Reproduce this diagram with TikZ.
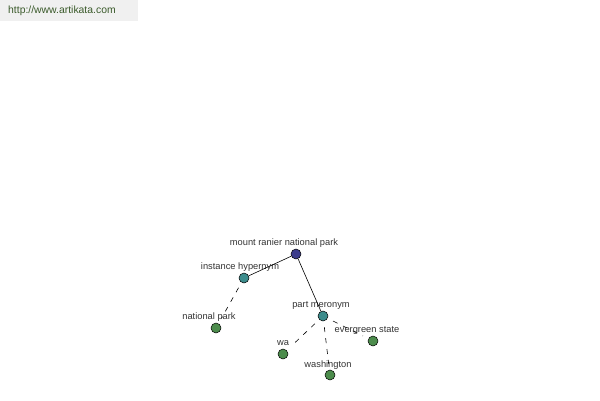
\documentclass[tikz,border=0pt]{standalone}
\usepackage{fontspec}
\setmainfont{Liberation Sans}
\definecolor{rootc}{HTML}{3C3C8C}
\definecolor{relc}{HTML}{3C8C8C}
\definecolor{leafc}{HTML}{4C8C4C}
\definecolor{urlc}{HTML}{3A5A2A}
\begin{document}
\begin{tikzpicture}[x=1pt,y=-1pt,
  dot/.style={circle,draw=black,line width=0.5pt,inner sep=0pt,minimum size=10pt},
  lbl/.style={font=\fontsize{9.3}{10}\selectfont,text=black!80,inner sep=0pt},
  rel/.style={line width=0.6pt},
  sub/.style={line width=0.6pt,dash pattern=on 5pt off 6pt,shorten <=6pt,shorten >=6pt}]
\useasboundingbox (0,0) rectangle (600,400);
\fill[black!6] (0,0) rectangle (138,21);
\node[anchor=west,font=\fontsize{10.4}{12}\selectfont,text=urlc,inner sep=0pt] (url) at (8,11) {http://www.artikata.com};
\node[dot,fill=rootc] (root) at (296,254) {};
\node[dot,fill=relc] (inst) at (244,278) {};
\node[dot,fill=relc] (part) at (323,316) {};
\node[dot,fill=leafc] (np) at (216,328) {};
\node[dot,fill=leafc] (wa) at (283,354) {};
\node[dot,fill=leafc] (wash) at (330,375) {};
\node[dot,fill=leafc] (ever) at (373,341) {};
\node[lbl] (rootl) at (284,243.5) {mount ranier national park};
\node[lbl] (instl) at (240,267.5) {instance hypernym};
\node[lbl] (partl) at (321,305.5) {part meronym};
\node[lbl] (npl) at (209,317.5) {national park};
\node[lbl] (wal) at (283,343.5) {wa};
\node[lbl] (washl) at (328,365.5) {washington};
\node[lbl] (everl) at (367,330.5) {evergreen state};
\draw[rel] (root) -- (inst);
\draw[rel] (root) -- (part);
\draw[sub] (inst) -- (np);
\draw[sub] (part) -- (wa);
\draw[sub] (part) -- (wash);
\draw[sub] (part) -- (ever);
\end{tikzpicture}
\end{document}
